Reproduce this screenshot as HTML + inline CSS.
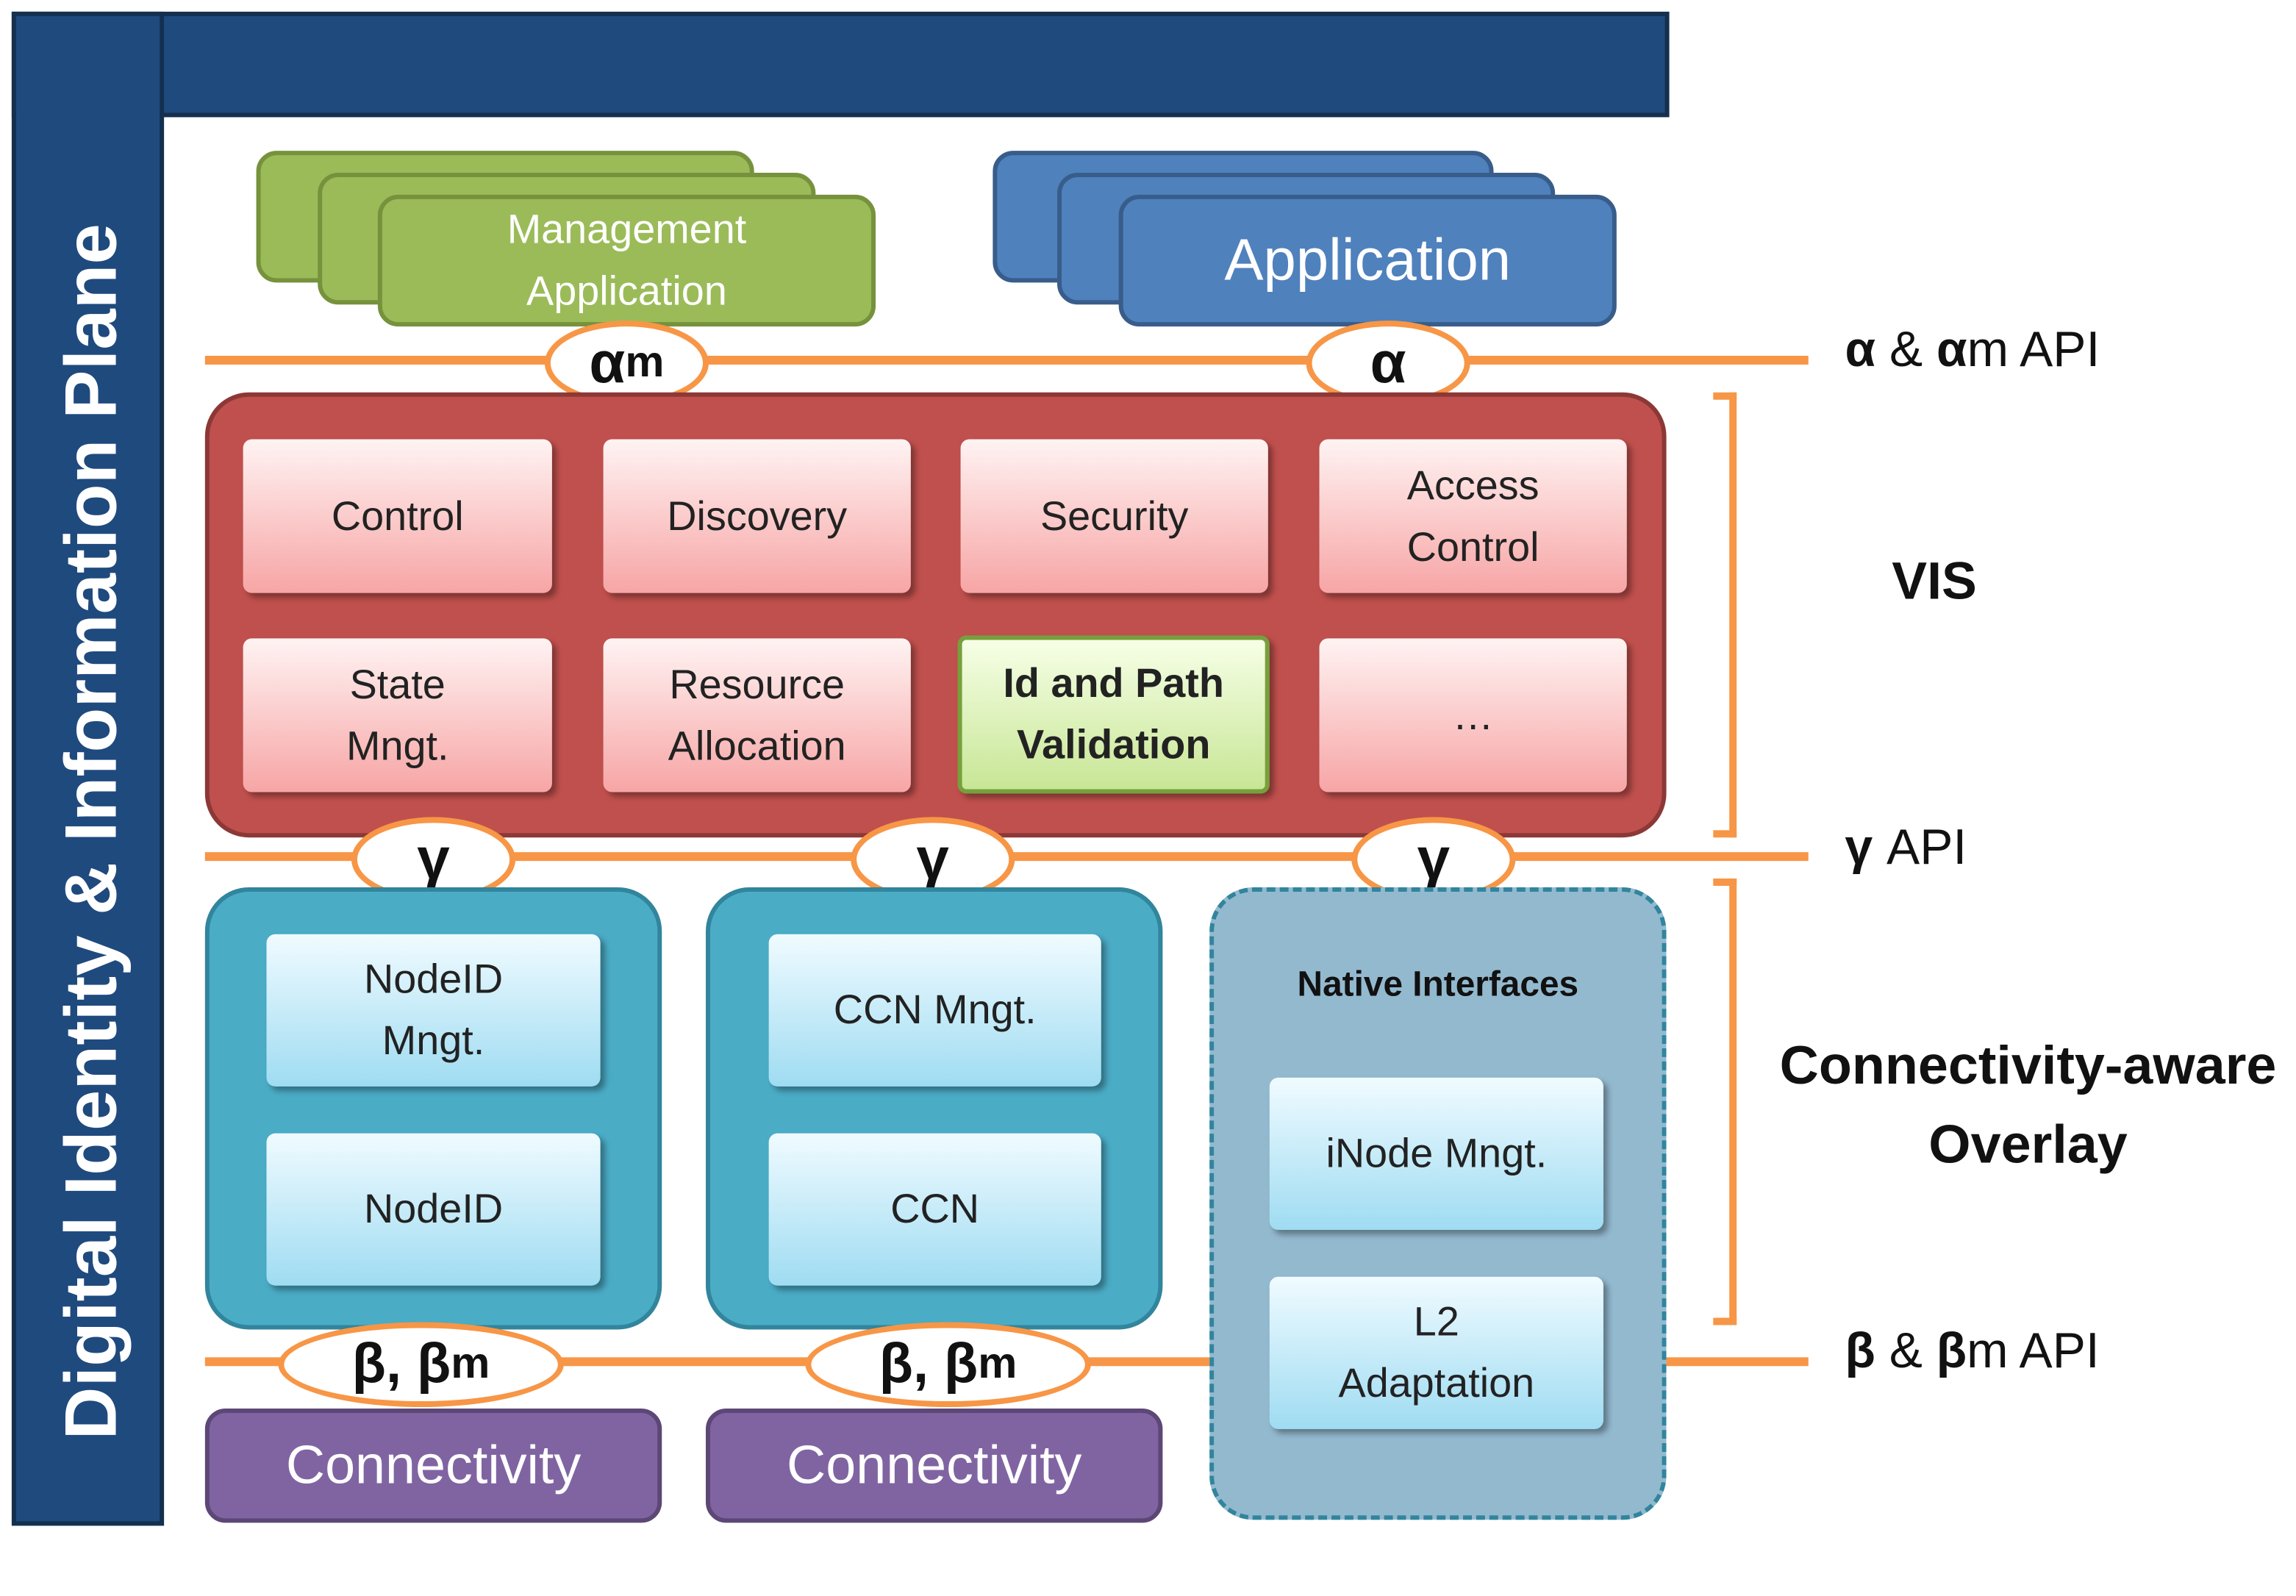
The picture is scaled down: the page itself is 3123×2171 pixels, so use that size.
<!DOCTYPE html>
<html><head><meta charset="utf-8">
<style>
html,body{margin:0;padding:0;background:#fff;}
body{width:3123px;height:2095px;overflow:hidden;position:relative;font-family:"Liberation Sans","DejaVu Sans",sans-serif;}
#s{position:absolute;left:0;top:0;width:1568px;height:1052px;transform:scale(1.9917);transform-origin:0 0;}
.a{position:absolute;box-sizing:border-box;}
.c{display:flex;align-items:center;justify-content:center;text-align:center;}
.g{background:#9bbb59;border:3px solid #76923c;border-radius:14px;}
.b{background:#4f81bd;border:3px solid #385d8a;border-radius:14px;}
.p{background:linear-gradient(#fff3f3,#f7a5a5);border-radius:6px;box-shadow:3px 3px 4px rgba(0,0,0,.35);font-size:28px;color:#222;line-height:42px;}
.t{background:linear-gradient(#f0fbff,#9fdcf2);border-radius:6px;box-shadow:3px 3px 4px rgba(0,0,0,.35);font-size:28px;color:#222;line-height:42px;}
.ln{background:#f79646;height:6px;}
.ov{background:#fff;border:4px solid #f79646;border-radius:50%;font-weight:bold;color:#111;}
.lbl{font-size:34px;color:#111;white-space:nowrap;}
</style></head><body><div id="s">
<div class="a" style="left:8px;top:8px;width:1132px;height:72px;background:#1f4a7e;border:3px solid #14304f;"></div>
<div class="a" style="left:8px;top:8px;width:104px;height:1034px;background:#1f4a7e;border:3px solid #14304f;"></div>
<div class="a" style="left:11px;top:11px;width:98px;height:66px;background:#1f4a7e;"></div>
<div class="a c" style="left:-460px;top:538px;width:1044px;height:60px;transform:rotate(-90deg);color:#fff;font-weight:bold;font-size:50px;white-space:nowrap;">Digital Identity &amp; Information Plane</div>

<div class="a g" style="left:175px;top:103px;width:340px;height:90px;"></div>
<div class="a g" style="left:217px;top:118px;width:340px;height:90px;"></div>
<div class="a g c" style="left:258px;top:133px;width:340px;height:90px;color:#fff;font-size:28px;line-height:42px;">Management<br>Application</div>
<div class="a b" style="left:678px;top:103px;width:342px;height:90px;"></div>
<div class="a b" style="left:722px;top:118px;width:340px;height:90px;"></div>
<div class="a b c" style="left:764px;top:133px;width:340px;height:90px;color:#fff;font-size:40px;">Application</div>

<div class="a ln" style="left:140px;top:243px;width:1095px;"></div>
<div class="a ov c" style="left:372px;top:219px;width:112px;height:58px;font-size:40px;">α<span style="font-size:30px">m</span></div>
<div class="a ov c" style="left:892px;top:219px;width:112px;height:58px;font-size:40px;">α</div>
<div class="a lbl" style="left:1260px;top:220px;"><b>α</b> &amp; <b>α</b>m API</div>

<div class="a" style="left:140px;top:268px;width:998px;height:304px;background:#c0504d;border:3px solid #8c3836;border-radius:30px;"></div>
<div class="a p c" style="left:166px;top:300px;width:211px;height:105px;">Control</div>
<div class="a p c" style="left:412px;top:300px;width:210px;height:105px;">Discovery</div>
<div class="a p c" style="left:656px;top:300px;width:210px;height:105px;">Security</div>
<div class="a p c" style="left:901px;top:300px;width:210px;height:105px;">Access<br>Control</div>
<div class="a p c" style="left:166px;top:436px;width:211px;height:105px;">State<br>Mngt.</div>
<div class="a p c" style="left:412px;top:436px;width:210px;height:105px;">Resource<br>Allocation</div>
<div class="a p c" style="left:654px;top:434px;width:213px;height:108px;background:linear-gradient(#f6ffe6,#c8e696);border:3px solid #76a03c;font-weight:bold;">Id and Path<br>Validation</div>
<div class="a p c" style="left:901px;top:436px;width:210px;height:105px;">…</div>
<div class="a" style="left:1170px;top:268px;width:16px;height:304px;border:5px solid #f79646;border-left:none;"></div>
<div class="a lbl" style="left:1292px;top:376px;font-weight:bold;font-size:36px;">VIS</div>

<div class="a ln" style="left:140px;top:582px;width:1095px;"></div>
<div class="a ov c" style="left:240px;top:558px;width:112px;height:58px;font-size:40px;">γ</div>
<div class="a ov c" style="left:581px;top:558px;width:112px;height:58px;font-size:40px;">γ</div>
<div class="a ov c" style="left:923px;top:558px;width:112px;height:58px;font-size:40px;">γ</div>
<div class="a lbl" style="left:1260px;top:560px;"><b>γ</b> API</div>

<div class="a" style="left:140px;top:606px;width:312px;height:302px;background:#4bacc6;border:3px solid #31859c;border-radius:30px;"></div>
<div class="a" style="left:482px;top:606px;width:312px;height:302px;background:#4bacc6;border:3px solid #31859c;border-radius:30px;"></div>
<div class="a t c" style="left:182px;top:638px;width:228px;height:104px;">NodeID<br>Mngt.</div>
<div class="a t c" style="left:182px;top:774px;width:228px;height:104px;">NodeID</div>
<div class="a t c" style="left:525px;top:638px;width:227px;height:104px;">CCN Mngt.</div>
<div class="a t c" style="left:525px;top:774px;width:227px;height:104px;">CCN</div>
<div class="a" style="left:826px;top:606px;width:312px;height:432px;background:#93b9cf;border:3px dashed #31859c;border-radius:30px;"></div>
<div class="a c" style="left:826px;top:655px;width:312px;height:36px;font-weight:bold;font-size:24px;color:#111;">Native Interfaces</div>
<div class="a t c" style="left:867px;top:736px;width:228px;height:104px;">iNode Mngt.</div>
<div class="a t c" style="left:867px;top:872px;width:228px;height:104px;">L2<br>Adaptation</div>
<div class="a" style="left:1170px;top:600px;width:16px;height:305px;border:5px solid #f79646;border-left:none;"></div>
<div class="a c" style="left:1195px;top:700px;width:380px;height:110px;font-weight:bold;font-size:37px;line-height:54px;color:#111;white-space:nowrap;">Connectivity-aware<br>Overlay</div>

<div class="a ln" style="left:140px;top:927px;width:686px;"></div>
<div class="a ln" style="left:1138px;top:927px;width:97px;"></div>
<div class="a ov c" style="left:190px;top:903px;width:195px;height:58px;font-size:38px;">β, β<span style="font-size:30px">m</span></div>
<div class="a ov c" style="left:550px;top:903px;width:195px;height:58px;font-size:38px;">β, β<span style="font-size:30px">m</span></div>
<div class="a lbl" style="left:1260px;top:904px;"><b>β</b> &amp; <b>β</b>m API</div>

<div class="a c" style="left:140px;top:962px;width:312px;height:78px;background:#8064a2;border:3px solid #5c4776;border-radius:14px;color:#fff;font-size:37px;">Connectivity</div>
<div class="a c" style="left:482px;top:962px;width:312px;height:78px;background:#8064a2;border:3px solid #5c4776;border-radius:14px;color:#fff;font-size:37px;">Connectivity</div>
</div></body></html>
